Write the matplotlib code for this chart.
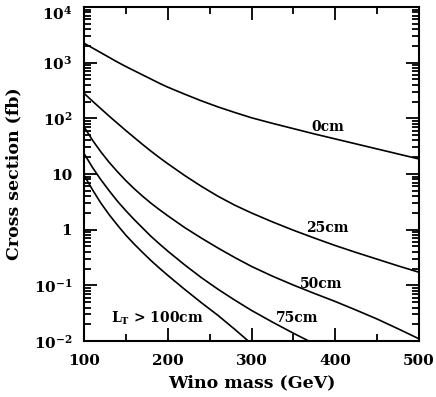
import numpy as np
import matplotlib
matplotlib.use('Agg')
import matplotlib.pyplot as plt
from matplotlib.ticker import FixedLocator, FixedFormatter, LogLocator, MultipleLocator, NullFormatter

plt.rcParams['font.family'] = 'DejaVu Serif'
plt.rcParams['font.weight'] = 'bold'
plt.rcParams['mathtext.fontset'] = 'dejavuserif'

# wino mass (GeV)
mass = [100, 110, 120, 130, 140, 150, 160, 170, 180, 190, 200, 220, 240, 260, 280,
        300, 325, 350, 375, 400, 425, 450, 475, 500]

# log10 of cross section (fb) for each decay-length cut
log_0cm = [3.35, 3.265, 3.18, 3.095, 3.01, 2.93, 2.855, 2.78, 2.705, 2.63, 2.56, 2.435,
           2.315, 2.205, 2.105, 2.01, 1.91, 1.815, 1.72, 1.63, 1.54, 1.45, 1.36, 1.27]
log_25cm = [2.45, 2.31, 2.175, 2.04, 1.91, 1.78, 1.655, 1.53, 1.41, 1.295, 1.185, 0.975,
            0.78, 0.60, 0.44, 0.30, 0.14, -0.01, -0.15, -0.285, -0.41, -0.53, -0.65, -0.765]
log_50cm = [1.85, 1.61, 1.40, 1.21, 1.04, 0.88, 0.735, 0.60, 0.475, 0.36, 0.25, 0.04,
            -0.15, -0.33, -0.50, -0.66, -0.835, -0.995, -1.145, -1.29, -1.445, -1.605, -1.78, -1.96]
log_75cm = [1.37, 1.12, 0.90, 0.70, 0.51, 0.34, 0.18, 0.03, -0.12, -0.255, -0.385, -0.63,
            -0.86, -1.07, -1.265, -1.45, -1.66, -1.86, -2.05]
log_100cm = [0.98, 0.72, 0.48, 0.27, 0.08, -0.10, -0.26, -0.41, -0.555, -0.69, -0.82, -1.07,
             -1.31, -1.54, -1.79, -2.05]

curves = [log_0cm, log_25cm, log_50cm, log_75cm, log_100cm]

# curve labels: (text, mass, cross section)
labels = [('0cm', 391, 68.7), ('25cm', 391, 1.05), ('50cm', 383, 0.105),
          ('75cm', 355, 0.026), ('$\\mathbf{L_T}$ > 100cm', 188, 0.0261)]

ytick_vals = [1e-2, 1e-1, 1, 10, 1e2, 1e3, 1e4]
ytick_text = ['$\\mathbf{10^{-2}}$', '$\\mathbf{10^{-1}}$', '1', '10',
              '$\\mathbf{10^{2}}$', '$\\mathbf{10^{3}}$', '']
xtick_vals = [100, 200, 300, 400, 500]

fig = plt.figure(figsize=(4.36, 3.97), dpi=100)
ax = fig.add_axes([0.1927, 0.141, 0.7683, 0.8414])

for c in curves:
    m = mass[:len(c)]
    ax.plot(m, 10 ** np.array(c), color='black', lw=1.2)

for txt, xm, yv in labels:
    ax.text(xm, yv, txt, ha='center', va='center', fontsize=10)

ax.set_yscale('log')
ax.set_xlim(100, 500)
ax.set_ylim(1e-2, 1e4)

ax.yaxis.set_major_locator(FixedLocator(ytick_vals))
ax.yaxis.set_major_formatter(FixedFormatter(ytick_text))
ax.yaxis.set_minor_locator(LogLocator(base=10, subs=np.arange(2, 10), numticks=20))
ax.yaxis.set_minor_formatter(NullFormatter())
ax.xaxis.set_major_locator(FixedLocator(xtick_vals))
ax.xaxis.set_minor_locator(MultipleLocator(50))

ax.tick_params(which='both', direction='in', top=True, right=True, width=1.3)
ax.tick_params(which='major', length=9.5, labelsize=11)
ax.tick_params(axis='x', which='major', pad=9)
ax.tick_params(axis='y', which='major', pad=8.5)
ax.tick_params(which='minor', length=4.8)
for lbl in ax.get_yticklabels():
    lbl.set_va('center_baseline')
for s in ax.spines.values():
    s.set_linewidth(1.5)

# top label shifted down so it stays inside the figure
ax.annotate('$\\mathbf{10^{4}}$', xy=(0, 1), xycoords='axes fraction', xytext=(-8.5, -4),
            textcoords='offset points', ha='right', va='center_baseline', fontsize=11)

ax.set_xlabel('Wino mass (GeV)', fontsize=12.5, fontweight='bold', labelpad=5)
ax.set_ylabel('Cross section (fb)', fontsize=12.5, fontweight='bold', labelpad=8)

fig.savefig('out.png', dpi=100)
